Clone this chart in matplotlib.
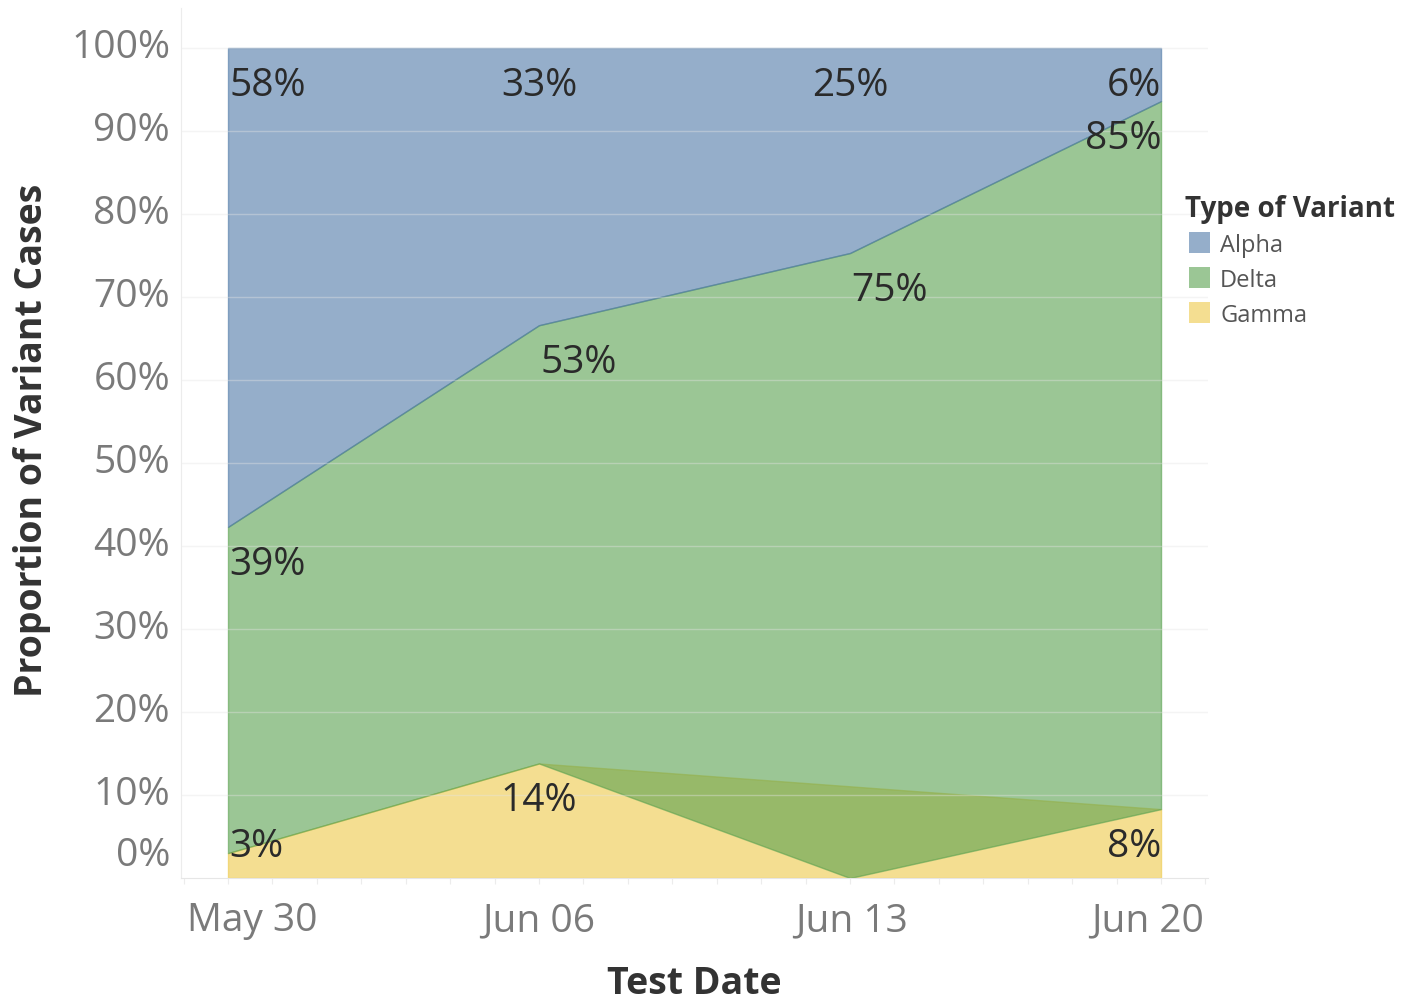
import numpy as np
import matplotlib
matplotlib.use("Agg")
import matplotlib.pyplot as plt
from matplotlib.patches import Rectangle
from matplotlib.ticker import MultipleLocator

# ---------------- data ----------------
dates = ["May 30", "Jun 06", "Jun 13", "Jun 20"]
day_offset = [0, 7, 14, 21]             # days since May 30
variants = ["Alpha", "Delta", "Gamma"]
alpha_vals = [57.7, 33.4, 24.7, 6.4]
delta_vals = [39.3, 52.8, 75.3, 85.3]
gamma_vals = [3.0, 13.8, np.nan, 8.3]   # no Gamma record on Jun 13
y_ticks = [0, 10, 20, 30, 40, 50, 60, 70, 80, 90, 100]
y_tick_labels = [f"{t}%" for t in y_ticks]
legend_title = "Type of Variant"
x_title = "Test Date"
y_title = "Proportion of Variant Cases"

colors = {"Alpha": "#4e79a7", "Delta": "#59a14f", "Gamma": "#edc948"}
fill_alpha = 0.6

plt.rcParams["font.family"] = ["Open Sans", "DejaVu Sans"]

W, H = 1402, 1002
fig = plt.figure(figsize=(W / 100, H / 100), dpi=100)
ax_l, ax_r, ax_t, ax_b = 181, 1208, 8, 878
ax = fig.add_axes([ax_l / W, (H - ax_b) / H, (ax_r - ax_l) / W, (ax_b - ax_t) / H])
px_per_pct = 8.3

x = np.array(day_offset, dtype=float)
g = np.array(gamma_vals, dtype=float)
d = np.array(delta_vals, dtype=float)
a = np.array(alpha_vals, dtype=float)

g_mask = ~np.isnan(g)
g_base = np.nan_to_num(g, nan=0.0)
d_top = g_base + d
a_top = d_top + a

# Gamma area (skips missing point), Delta stacked on Gamma (missing -> 0), Alpha on top
ax.fill_between(x[g_mask], 0, g[g_mask], facecolor=colors["Gamma"],
                edgecolor=colors["Gamma"], alpha=fill_alpha, lw=1, zorder=1)
ax.fill_between(x, g_base, d_top, facecolor=colors["Delta"],
                edgecolor=colors["Delta"], alpha=fill_alpha, lw=1, zorder=1.1)
ax.fill_between(x, d_top, a_top, facecolor=colors["Alpha"],
                edgecolor=colors["Alpha"], alpha=fill_alpha, lw=1, zorder=1.2)

ax.set_xlim((ax_l - 228) / 44.43, (ax_r - 228) / 44.43)
ax_ymax = 100 + (48 - ax_t) / px_per_pct
ax.set_ylim(0, ax_ymax)

# grid
for t in y_ticks[1:]:
    ax.axhline(t, color="#e4e4e4", lw=1, alpha=0.4, zorder=2)

# spines / ticks
for s in ["top", "right"]:
    ax.spines[s].set_visible(False)
ax.spines["left"].set_color("#ececec")
ax.spines["bottom"].set_color("#e6e6e6")
ax.spines["left"].set_zorder(2)
ax.xaxis.set_major_locator(MultipleLocator(1))
ax.tick_params(axis="x", length=4, color="#ececec", labelbottom=False)
ax.tick_params(axis="y", length=0, labelleft=False)

pt = 0.72  # points per pixel at dpi 100

# y tick labels
for t, lbl in zip(y_ticks, y_tick_labels):
    dy = 22 if t == 0 else 0
    ax.annotate(lbl, xy=(0, t), xycoords=("axes fraction", "data"),
                xytext=(-11 * pt, dy * pt), textcoords="offset points",
                ha="right", va="center", fontsize=28, color="#7a7a7a")

# x tick labels
x_ha = ["left", "center", "center", "right"]
x_dx = [-41, 0, 1, 43]
for xi, lbl, ha, dx in zip(x, dates, x_ha, x_dx):
    ax.annotate(lbl, xy=(xi, 0), xycoords=("data", "axes fraction"),
                xytext=(dx * pt, -43 * pt), textcoords="offset points",
                ha=ha, va="center", fontsize=28, color="#7a7a7a")

# axis titles
fig.text(((ax_l + ax_r) / 2) / W, 1 - 984 / H, x_title, ha="center", va="center",
         fontsize=27, fontweight="bold", color="#333333")
fig.text(32 / W, 1 - 440 / H, y_title, ha="center", va="center", rotation=90,
         fontsize=27, fontweight="bold", color="#333333")

# value labels at the top of each area (kept inside the plot at the bottom)
label_specs = [
    (a, a_top, ["left", "center", "center", "right"]),
    (d, d_top, ["left", "left", "left", "right"]),
    (g, g_base, ["left", "center", "center", "right"]),
]
dx_map = {"left": 1, "center": 0, "right": 0}
drop_px = 38
min_px = 31
for vals, tops, has in label_specs:
    for xi, v, top, ha in zip(x, vals, tops, has):
        if np.isnan(v):
            continue
        ly = max(top - drop_px / px_per_pct, min_px / px_per_pct)
        ax.annotate(f"{v:.0f}%", xy=(xi, ly), xytext=(dx_map[ha] * pt, 0),
                    textcoords="offset points", ha=ha, va="center",
                    fontsize=28, color="#2a2a2a", zorder=5)

# legend
fig.text(1185 / W, 1 - 217 / H, legend_title, ha="left", va="baseline",
         fontsize=20, fontweight="bold", color="#333333")
for i, name in enumerate(variants):
    cy = 242 + 35 * i
    fig.add_artist(Rectangle((1189 / W, 1 - (cy + 10.5) / H), 21 / W, 21 / H,
                             transform=fig.transFigure, facecolor=colors[name],
                             edgecolor="none", alpha=fill_alpha))
    fig.text(1220 / W, 1 - (cy + 10) / H, name, ha="left", va="baseline",
             fontsize=17, color="#555555")

fig.savefig("out.png", dpi=100)
